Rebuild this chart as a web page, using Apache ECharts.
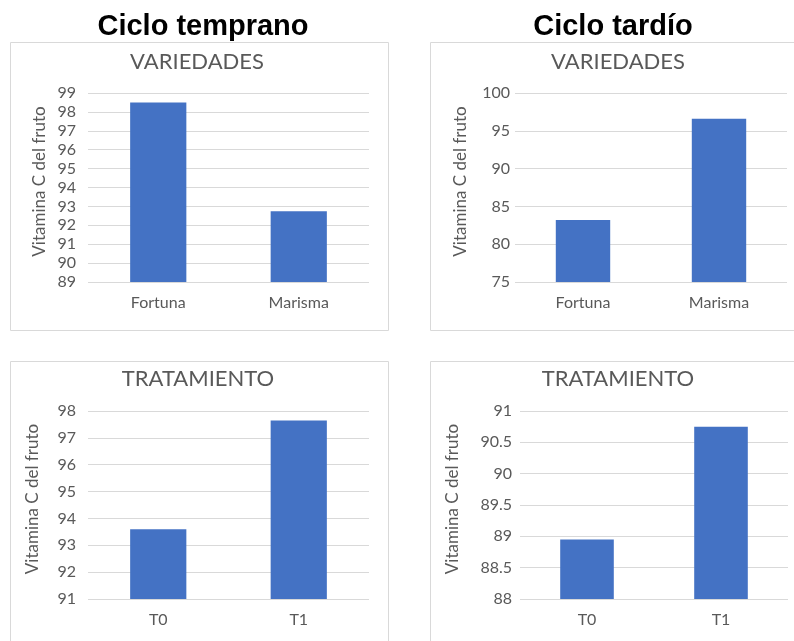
<!DOCTYPE html>
<html><head><meta charset="utf-8">
<script src="https://cdn.jsdelivr.net/npm/echarts@6/dist/echarts.min.js"></script>
<style>html,body{margin:0;padding:0;background:#fff}#c{width:794px;height:641px}</style>
</head><body><div id="c"></div>
<script>
// Data
const headings = ['Ciclo temprano', 'Ciclo tardío'];
const panelTitles = ['VARIEDADES', 'VARIEDADES', 'TRATAMIENTO', 'TRATAMIENTO'];
const yName = 'Vitamina C del fruto';
const varCats = ['Fortuna', 'Marisma'];
const tratCats = ['T0', 'T1'];
const earlyVar = [98.5, 92.75];
const lateVar = [83.2, 96.6];
const earlyTrat = [93.6, 97.65];
const lateTrat = [88.95, 90.75];
const yRanges = [[89, 99, 1], [75, 100, 5], [91, 98, 1], [88, 91, 0.5]];

const FONT = 'Lato, "Open Sans", sans-serif';
const GRAY = '#595959';
const BAR = '#4472C4';

const grids = [
  {left: 88, top: 93, width: 281, height: 189},
  {left: 515, top: 93, width: 272, height: 189},
  {left: 88, top: 411, width: 281, height: 188},
  {left: 520, top: 411, width: 268, height: 188}
];
const labelMargins = [12, 5, 12, 8];
const nameGaps = [40, 46, 47, 59];
const cats = [varCats, varCats, tratCats, tratCats];
const vals = [earlyVar, lateVar, earlyTrat, lateTrat];

const xAxis = cats.map((c, i) => ({
  type: 'category', gridIndex: i, data: c,
  axisLine: {show: false}, axisTick: {show: false},
  axisLabel: {color: GRAY, fontSize: 16, fontFamily: FONT, margin: 13}
}));
const yAxis = yRanges.map((r, i) => ({
  type: 'value', gridIndex: i, min: r[0], max: r[1], interval: r[2],
  name: yName, nameLocation: 'middle', nameGap: nameGaps[i], nameRotate: 90,
  nameTextStyle: {color: GRAY, fontSize: 17, fontFamily: FONT, padding: [0, 0, 0, 12]},
  axisLine: {show: false}, axisTick: {show: false},
  axisLabel: {color: GRAY, fontSize: 16, fontFamily: FONT, margin: labelMargins[i]},
  splitLine: {lineStyle: {color: '#d9d9d9', width: 1}}
}));
const series = vals.map((v, i) => ({
  type: 'bar', xAxisIndex: i, yAxisIndex: i, data: v, barWidth: '40%',
  itemStyle: {color: BAR}
}));

const frames = [
  {x: 10, y: 42, w: 378, h: 288},
  {x: 430, y: 42, w: 380, h: 288},
  {x: 10, y: 361, w: 378, h: 300},
  {x: 430, y: 361, w: 380, h: 300}
];
const titlePos = [[197, 62], [618, 62], [198, 379], [618, 379]];
const headPos = [[203, 27], [613, 27]];

const graphic = [];
frames.forEach(f => graphic.push({
  type: 'rect', shape: {x: f.x + 0.5, y: f.y + 0.5, width: f.w, height: f.h},
  style: {fill: 'none', stroke: '#d9d9d9', lineWidth: 1}, z: -10, silent: true
}));
panelTitles.forEach((t, i) => graphic.push({
  type: 'text', x: titlePos[i][0], y: titlePos[i][1],
  style: {text: t, fill: GRAY, font: '22px ' + FONT, align: 'center', verticalAlign: 'middle'}
}));
headings.forEach((t, i) => graphic.push({
  type: 'text', x: headPos[i][0], y: headPos[i][1],
  style: {text: t, fill: '#000', font: 'bold 29px "Liberation Sans", Arial, sans-serif', align: 'center', verticalAlign: 'middle'}
}));

const chart = echarts.init(document.getElementById('c'));
chart.setOption({
  animation: false,
  grid: grids.map(g => Object.assign({containLabel: false}, g)),
  xAxis, yAxis, series, graphic
});
</script></body></html>
